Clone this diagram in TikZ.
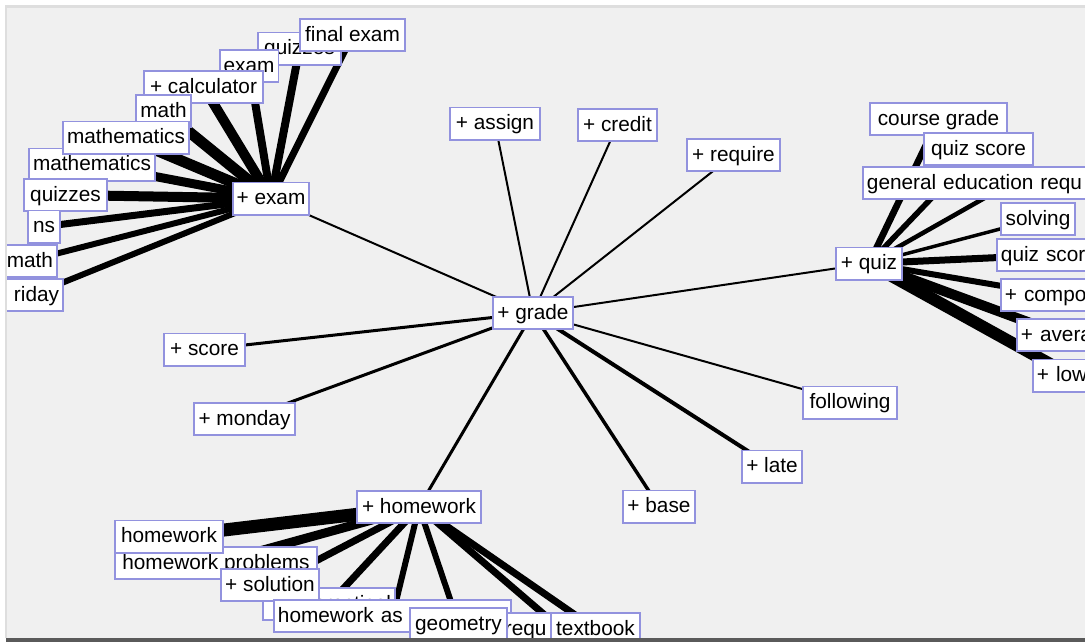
\documentclass[tikz,border=0pt]{standalone}
\usepackage{fontspec}
\setmainfont{Liberation Sans}
\usetikzlibrary{backgrounds}
\definecolor{panelbg}{RGB}{240,240,240}
\definecolor{nodeborder}{RGB}{146,146,222}
\definecolor{edgetop}{RGB}{222,222,222}
\definecolor{edgebot}{RGB}{90,90,90}
\begin{document}
\begin{tikzpicture}[x=0.75pt,y=-0.75pt,
  nb/.style={draw=nodeborder, line width=1.4pt, fill=white, inner xsep=3pt, inner ysep=0pt,
    minimum height=24.1pt, text height=11pt, text depth=2pt,
    font=\fontsize{15.6}{18}\selectfont, text=black},
  mw/.style={minimum width=#1},
  lj/.style={text width=#1, align=left},
  rj/.style={text width=#1, align=right},
  ln/.style={draw=black, line width=#1}]
\useasboundingbox (0,0) rectangle (1085,643);
\begin{pgfonlayer}{background}
  \fill[white] (0,0) rectangle (1085,643);
  \fill[panelbg] (7,8) rectangle (1085,638);
\end{pgfonlayer}

\begin{scope}
\clip (7,8) rectangle (1085,638);
% central nodes
\node[nb, mw=60.1pt]  (grade)  at (533,313)   {+ grade};
\node[nb, mw=67.6pt]  (assign) at (495,123.5) {+ assign};
\node[nb, mw=59.35pt] (credit) at (617.5,125) {+ credit};
\node[nb, mw=69.85pt] (require) at (733.5,155) {+ require};
\node[nb, mw=60.85pt] (score)  at (204.5,349.5) {+ score};
\node[nb, mw=75.85pt] (monday) at (244.5,419) {+ monday};
\node[nb, mw=70.6pt]  (following) at (850,402.5) {following};
\node[nb, mw=43.6pt]  (late)   at (772,466.5) {+ late};
\node[nb, mw=54.1pt]  (base)   at (659,506.5) {+ base};
% exam cluster
\node[nb, mw=62.35pt] (eQz)   at (299.5,48.5) {quizzes};
\node[nb, mw=78.85pt] (eFin)  at (352.5,35)   {final exam};
\node[nb, mw=43.6pt]  (eEx)   at (249,66)     {exam};
\node[nb, mw=89.35pt] (eCalc) at (203.5,87)   {+ calculator};
\node[nb, mw=39.85pt] (eMathA) at (163.5,111) {math};
\node[nb, mw=94.6pt]  (eMathLo) at (92,164.5) {mathematics};
\node[nb, mw=94.6pt]  (eMathUp) at (126,137.5) {mathematics};
\node[nb, mw=62.35pt] (eQzB)  at (65.5,195)   {quizzes};
\node[nb, mw=24.1pt]  (eNs)   at (44,226.5)   {ns};
\node[nb, rj=37.6pt, anchor=east] (eMathB) at (58,261) {math};
\node[nb, rj=40.6pt, anchor=east] (eFri) at (64,295) {riday};
\node[nb, mw=57.1pt]  (exam)  at (271,198.5)  {+ exam};
% homework cluster
\node[nb, mw=151.6pt] (hProb) at (216,563)   {homework problems};
\node[nb, mw=81.1pt]  (hHw)   at (169,536.5) {homework};
\node[nb, rj=93.1pt]  (hPrac) at (329,604)   {practical};
\node[nb, mw=73.6pt]  (hSol)  at (270,585)   {+ solution};
\node[nb, lj=171.85pt] (hAsg) at (392.5,616) {homework as};
\node[nb, lj=84.1pt]  (hReq)  at (561,629)   {requ};
\node[nb, mw=72.85pt] (hGeo)  at (458.5,624) {geometry};
\node[nb, mw=66.85pt] (hText) at (595.5,629) {textbook};
\node[nb, mw=93.1pt]  (homework) at (419,507) {+ homework};
% quiz cluster
\node[nb, mw=102.85pt] (qCourse) at (938.5,119) {course grade};
\node[nb, mw=81.85pt]  (qScoreA) at (978.5,149) {quiz score};
\node[nb, lj=216.1pt]  (qGen)    at (1011,183)  {general education requ};
\node[nb, mw=55.6pt]   (qSolv)   at (1038,219)  {solving};
\node[nb, lj=78.1pt]   (qScoreB) at (1053,255)  {quiz scor};
\node[nb, lj=75.1pt]   (qComp)   at (1055,295)  {+ compo};
\node[nb, lj=63.1pt]   (qAvg)    at (1063,335)  {+ avera};
\node[nb, lj=51.1pt]   (qLow)    at (1071,375.5) {+ low};
\node[nb, mw=49.6pt]   (quiz)    at (869,263.5) {+ quiz};
\end{scope}

\begin{pgfonlayer}{background}
  % grade edges
  \draw[ln=1.5pt] (grade.center) -- (assign.center);
  \draw[ln=1.5pt] (grade.center) -- (credit.center);
  \draw[ln=1.5pt] (grade.center) -- (require.center);
  \draw[ln=1.5pt] (grade.center) -- (quiz.center);
  \draw[ln=1.5pt] (grade.center) -- (exam.center);
  \draw[ln=1.5pt] (grade.center) -- (following.center);
  \draw[ln=2.25pt] (grade.center) -- (score.center);
  \draw[ln=2.25pt] (grade.center) -- (monday.center);
  \draw[ln=2.25pt] (grade.center) -- (homework.center);
  \draw[ln=2.6pt] (grade.center) -- (base.center);
  \draw[ln=3pt] (grade.center) -- (late.center);
  % exam edges
  \draw[ln=5.25pt] (exam.center) -- (eFin.center);
  \draw[ln=6pt]    (exam.center) -- (eQz.center);
  \draw[ln=6pt]    (exam.center) -- (eEx.center);
  \draw[ln=7.5pt]  (exam.center) -- (eCalc.center);
  \draw[ln=8.25pt] (exam.center) -- (eMathA.center);
  \draw[ln=8.25pt] (exam.center) -- (eMathUp.center);
  \draw[ln=6.75pt] (exam.center) -- (eMathLo.center);
  \draw[ln=7.5pt]  (exam.center) -- (eQzB.center);
  \draw[ln=5.25pt] (exam.center) -- (eNs.center);
  \draw[ln=4.5pt]  (exam.center) -- (eMathB.center);
  \draw[ln=4.5pt]  (exam.center) -- (eFri.center);
  % homework edges
  \draw[ln=9.75pt] (homework.center) -- (hHw.center);
  \draw[ln=6.75pt] (homework.center) -- (hProb.center);
  \draw[ln=5.25pt] (homework.center) -- (hSol.center);
  \draw[ln=5.25pt] (homework.center) -- (hPrac.center);
  \draw[ln=4.5pt]  (homework.center) -- (hAsg.center);
  \draw[ln=4.5pt]  (homework.center) -- (hGeo.center);
  \draw[ln=5.25pt] (homework.center) -- (hReq.center);
  \draw[ln=5.25pt] (homework.center) -- (hText.center);
  % quiz edges
  \draw[ln=5pt]    (quiz.center) -- (qCourse.center);
  \draw[ln=4.2pt]  (quiz.center) -- (qScoreA.center);
  \draw[ln=3.4pt]  (quiz.center) -- (qGen.center);
  \draw[ln=2.6pt]  (quiz.center) -- (qSolv.center);
  \draw[ln=5.25pt] (quiz.center) -- (qScoreB.center);
  \draw[ln=4.5pt]  (quiz.center) -- (qComp.center);
  \draw[ln=7.5pt]  (quiz.center) -- (qAvg.center);
  \draw[ln=9pt]    (quiz.center) -- (qLow.center);
\end{pgfonlayer}

% panel frame
\fill[edgetop] (5,5) rectangle (1085,8);
\fill[edgetop] (5,5) rectangle (7,638);
\fill[edgebot] (6,638) rectangle (1085,641.5);
\end{tikzpicture}
\end{document}
